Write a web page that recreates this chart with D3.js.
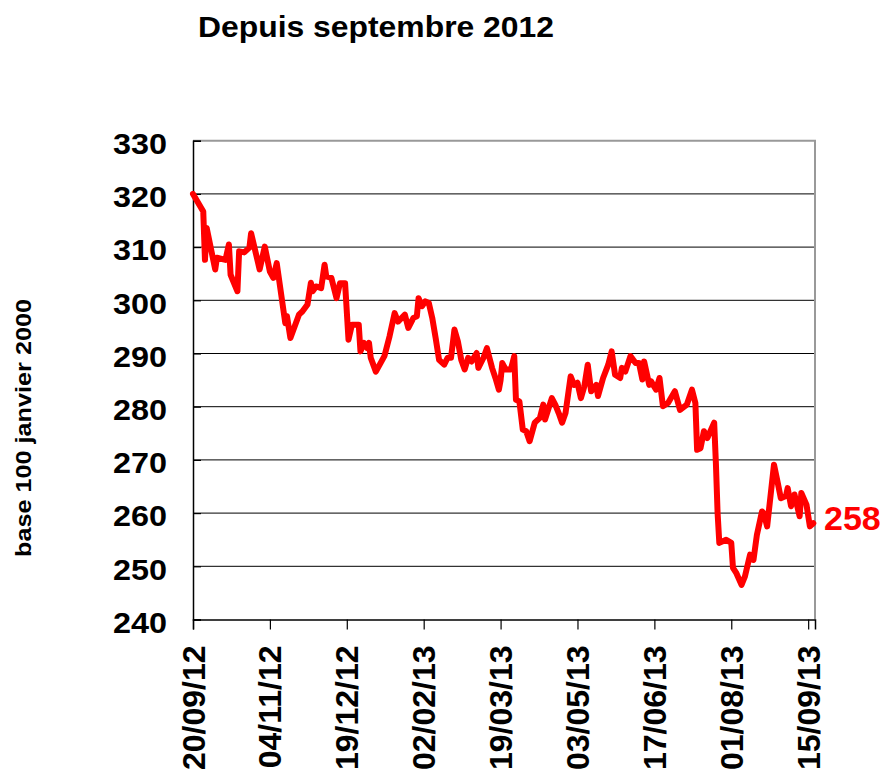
<!DOCTYPE html>
<html>
<head>
<meta charset="utf-8">
<script src="https://cdn.jsdelivr.net/npm/d3@7"></script>
<style>
  html, body { margin: 0; padding: 0; background: #fff; }
  svg { display: block; font-family: "Liberation Sans", Arial, sans-serif; }
</style>
</head>
<body>
<svg id="chart" width="889" height="774"></svg>
<script>
// ---- data ----
const dates = [
  "2012-09-20","2012-09-26","2012-09-27","2012-09-28","2012-10-03","2012-10-04","2012-10-09","2012-10-11",
  "2012-10-12","2012-10-16","2012-10-17","2012-10-20","2012-10-23","2012-10-24","2012-10-29","2012-11-01",
  "2012-11-04","2012-11-06","2012-11-08","2012-11-13","2012-11-14","2012-11-16","2012-11-21","2012-11-23",
  "2012-11-26","2012-11-28","2012-11-29","2012-12-01","2012-12-04","2012-12-06","2012-12-07","2012-12-10",
  "2012-12-13","2012-12-15","2012-12-18","2012-12-20","2012-12-22","2012-12-26","2012-12-27","2012-12-29",
  "2012-12-31","2013-01-01","2013-01-02","2013-01-05","2013-01-10","2013-01-13","2013-01-16","2013-01-18",
  "2013-01-22","2013-01-24","2013-01-27","2013-01-29","2013-01-30","2013-02-01","2013-02-03","2013-02-05",
  "2013-02-07","2013-02-09","2013-02-11","2013-02-14","2013-02-16","2013-02-18","2013-02-20","2013-02-22",
  "2013-02-24","2013-02-26","2013-02-28","2013-03-02","2013-03-05","2013-03-06","2013-03-09","2013-03-11",
  "2013-03-14","2013-03-16","2013-03-18","2013-03-19","2013-03-20","2013-03-22","2013-03-25","2013-03-27",
  "2013-03-28","2013-03-30","2013-04-01","2013-04-03","2013-04-05","2013-04-08","2013-04-11","2013-04-13",
  "2013-04-14","2013-04-18","2013-04-20","2013-04-22","2013-04-24","2013-04-26","2013-04-29","2013-05-01",
  "2013-05-03","2013-05-05","2013-05-07","2013-05-09","2013-05-11","2013-05-14","2013-05-15","2013-05-18",
  "2013-05-21","2013-05-23","2013-05-25","2013-05-28","2013-05-29","2013-05-31","2013-06-03","2013-06-06",
  "2013-06-08","2013-06-10","2013-06-11","2013-06-14","2013-06-15","2013-06-18","2013-06-20","2013-06-22",
  "2013-06-25","2013-06-29","2013-07-02","2013-07-06","2013-07-09","2013-07-11","2013-07-12","2013-07-14",
  "2013-07-16","2013-07-18","2013-07-22","2013-07-23","2013-07-24","2013-07-25","2013-07-29","2013-08-01",
  "2013-08-02","2013-08-04","2013-08-07","2013-08-09","2013-08-12","2013-08-14","2013-08-16","2013-08-19",
  "2013-08-20","2013-08-22","2013-08-26","2013-08-28","2013-08-30","2013-09-02","2013-09-03","2013-09-05",
  "2013-09-07","2013-09-10","2013-09-11","2013-09-14","2013-09-16","2013-09-18"
];
const values = [
  320.0,316.7,307.6,313.6,305.8,308.0,307.6,310.5,
  304.8,301.7,309.2,309.0,309.9,312.6,305.8,310.1,
  305.4,304.2,307.0,295.7,297.0,292.9,297.3,297.9,
  299.2,303.3,301.7,302.6,302.3,306.7,304.5,304.2,
  300.4,303.2,303.2,292.6,295.4,295.4,290.4,292.0,
  291.0,292.0,289.2,286.6,289.5,293.2,297.6,296.0,
  297.3,294.8,296.7,297.0,300.4,298.9,299.8,299.5,
  296.7,292.9,288.8,287.9,289.2,289.2,294.5,292.3,
  288.8,287.0,289.2,288.5,290.1,287.3,289.2,291.0,
  287.3,285.4,283.2,285.0,288.2,287.0,287.0,289.5,
  281.3,281.0,275.7,275.4,273.5,277.0,277.9,280.4,
  277.6,281.6,280.4,278.8,277.0,278.8,285.7,284.1,
  284.5,281.6,283.8,287.9,282.9,284.1,282.0,285.4,
  287.9,290.4,286.0,285.4,287.3,286.6,289.5,288.2,
  288.2,285.1,288.5,284.1,284.8,283.2,285.4,280.1,
  280.7,282.9,279.4,280.4,283.2,280.7,271.9,272.2,
  275.4,274.1,277.0,269.4,260.0,254.4,255.0,254.4,
  249.7,248.7,246.5,248.1,252.2,251.2,255.9,260.3,
  260.0,257.5,269.1,266.0,262.8,263.2,264.7,261.3,
  263.5,259.4,263.8,261.6,257.5,258.1
];
const xTickLabels = ["20/09/12","04/11/12","19/12/12","02/02/13","19/03/13","03/05/13","17/06/13","01/08/13","15/09/13"];
const yTicks = [240,250,260,270,280,290,300,310,320,330];
const titleText = "Depuis septembre 2012";
const yAxisTitle = "base 100 janvier 2000";
const lastLabel = "258";
const xDomain = ["2012-09-20","2013-09-19"];

// ---- build ----
const parse = d3.timeParse("%Y-%m-%d");
const parseTick = d3.timeParse("%d/%m/%y");
const fmtTick = d3.timeFormat("%d/%m/%y");
const data = dates.map((d, i) => ({ date: parse(d), value: values[i] }));

const svg = d3.select("#chart");
const pLeft = 193, pRight = 815, pTop = 140.7, pBottom = 619.5;

const x = d3.scaleTime().domain(xDomain.map(parse)).range([pLeft, pRight]);
const y = d3.scaleLinear().domain([240, 330]).range([pBottom, pTop]);

// title
svg.append("text")
  .attr("x", 198).attr("y", 37)
  .attr("font-size", 30).attr("font-weight", "bold")
  .attr("textLength", 356).attr("lengthAdjust", "spacingAndGlyphs")
  .text(titleText);

// gridlines
svg.append("g").selectAll("line")
  .data(yTicks.filter(v => v > 240 && v < 330))
  .join("line")
  .attr("x1", pLeft).attr("x2", pRight)
  .attr("y1", d => y(d)).attr("y2", d => y(d))
  .attr("stroke", "#000").attr("stroke-width", 1);

// top & right border (grey)
svg.append("path")
  .attr("d", `M${pLeft},${y(330)}H${pRight}V${y(240)}`)
  .attr("fill", "none").attr("stroke", "#999").attr("stroke-width", 2);

// y axis
const yAxis = svg.append("g").attr("transform", `translate(${pLeft},0)`)
  .call(d3.axisRight(y).tickValues(yTicks).tickSize(8).tickFormat(d3.format("d")));
yAxis.select(".domain").attr("stroke", "#000").attr("stroke-width", 1.5);
yAxis.selectAll(".tick line").attr("stroke", "#000").attr("stroke-width", 1.2);
yAxis.selectAll(".tick text")
  .attr("x", -26).attr("dy", "0.36em").attr("text-anchor", "end")
  .attr("transform", "translate(0,2)")
  .attr("font-size", 30).attr("font-weight", "bold").attr("fill", "#000")
  .attr("font-family", "'Liberation Sans', Arial, sans-serif")
  .attr("textLength", 54).attr("lengthAdjust", "spacingAndGlyphs");

// x axis
const xAxis = svg.append("g").attr("transform", `translate(0,${pBottom})`)
  .call(d3.axisBottom(x).tickValues(xTickLabels.map(parseTick)).tickSize(10).tickFormat(fmtTick));
xAxis.select(".domain").attr("stroke", "#000").attr("stroke-width", 1.5);
xAxis.selectAll(".tick line").attr("stroke", "#000").attr("stroke-width", 1.2);
xAxis.selectAll(".tick text")
  .attr("transform", "translate(0,26) rotate(-90)")
  .attr("x", 0).attr("y", 11).attr("dy", 0)
  .attr("text-anchor", "end")
  .attr("font-size", 32).attr("font-weight", "bold").attr("fill", "#000")
  .attr("font-family", "'Liberation Sans', Arial, sans-serif");

// y axis title
svg.append("text")
  .attr("transform", `translate(31,428) rotate(-90)`)
  .attr("text-anchor", "middle")
  .attr("font-size", 22).attr("font-weight", "bold")
  .attr("textLength", 258).attr("lengthAdjust", "spacingAndGlyphs")
  .text(yAxisTitle);

// line
const line = d3.line().x(d => x(d.date)).y(d => y(d.value));
svg.append("path")
  .datum(data)
  .attr("d", line)
  .attr("fill", "none")
  .attr("stroke", "#ff0000")
  .attr("stroke-width", 6)
  .attr("stroke-linejoin", "round")
  .attr("stroke-linecap", "round");

// end label
svg.append("text")
  .attr("x", 824).attr("y", 530)
  .attr("font-size", 34).attr("font-weight", "bold").attr("fill", "#ff0000")
  .text(lastLabel);
</script>
</body>
</html>
